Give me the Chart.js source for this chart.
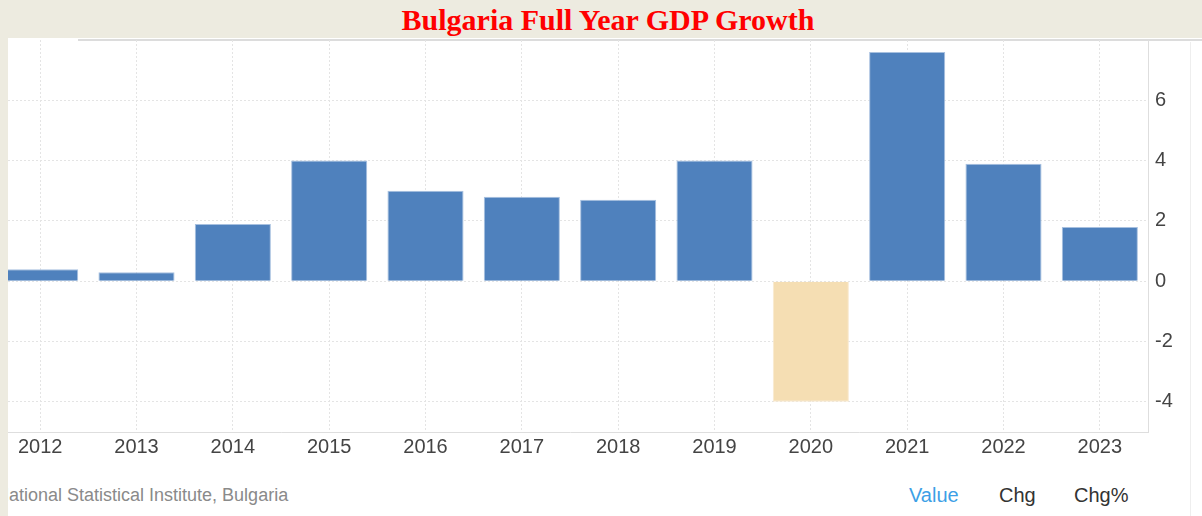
<!DOCTYPE html>
<html>
<head>
<meta charset="utf-8">
<script src="https://cdn.jsdelivr.net/npm/chart.js@4"></script>
<style>
  html,body{margin:0;padding:0;}
  body{width:1202px;height:516px;background:#edebe0;position:relative;overflow:hidden;font-family:"Liberation Sans",Arial,sans-serif;}
  #titulo{position:absolute;left:0;top:3px;width:1216px;text-align:center;font-family:"Liberation Serif","Times New Roman",serif;font-weight:bold;font-size:30px;color:#ff0000;}
  #panel{position:absolute;left:8px;top:38px;width:1194px;height:478px;background:#fff;overflow:hidden;}
  #linea{position:absolute;left:70px;top:1px;right:0;height:0;border-top:2px solid #dcdcdc;}
  #lineaDer{position:absolute;left:1182px;top:4px;bottom:0;width:0;border-left:1px solid #eeeeee;}
  #caja{position:absolute;left:-16px;top:2px;width:1200px;height:432px;}
  #fuente{position:absolute;left:-12px;top:447px;font-size:18px;color:#8a8a8a;white-space:nowrap;}
  .boton{position:absolute;top:446px;font-size:20px;color:#333;}
</style>
</head>
<body>
<div id="titulo">Bulgaria Full Year GDP Growth</div>
<div id="panel">
  <div id="linea"></div>
  <div id="lineaDer"></div>
  <div id="caja"><canvas id="idGrafica"></canvas></div>
  <div id="fuente">National Statistical Institute, Bulgaria</div>
  <div class="boton" style="left:901px;color:#3d9fe6;">Value</div>
  <div class="boton" style="left:991px;">Chg</div>
  <div class="boton" style="left:1066px;">Chg%</div>
</div>
<script>
// datos
var anios=['2012','2013','2014','2015','2016','2017','2018','2019','2020','2021','2022','2023'];
var crecimiento=[0.4,0.3,1.9,4.0,3.0,2.8,2.7,4.0,-4.0,7.6,3.9,1.8];
var ticksY=[-4,-2,0,2,4,6];

var colores=[];
var bordes=[];
for(let i in crecimiento){
    if(crecimiento[i]<0){
        colores.push('#f5deb3');
        bordes.push('#f9ead0');
    }else{
        colores.push('#4f81bd');
        bordes.push('#a7c0df');
    }
}

var ctx=document.getElementById('idGrafica').getContext('2d');
var mychart=new Chart(ctx,{
    type:'bar',
    data:{
        labels:anios,
        datasets:[{
            label:'GDP Growth',
            data:crecimiento,
            backgroundColor:colores,
            borderColor:bordes,
            borderWidth:1,
            barPercentage:0.79,
            categoryPercentage:1
        }]
    },
    options:{
        responsive:true,
        maintainAspectRatio:false,
        animation:false,
        layout:{padding:0},
        plugins:{
            legend:{display:false},
            tooltip:{enabled:false}
        },
        scales:{
            x:{
                offset:true,
                grid:{offset:false,color:'#e4e4e4',drawTicks:false},
                border:{display:true,color:'#dedede',width:1,dash:[2,2]},
                ticks:{color:'#444',font:{family:'Liberation Sans',size:20},padding:3,maxRotation:0},
                afterFit:function(scale){
                    scale.height=40;
                    scale.paddingLeft=0;scale.paddingRight=0;
                }
            },
            y:{
                position:'right',
                min:-5,
                max:8,
                afterBuildTicks:function(scale){
                    scale.ticks=ticksY.map(function(v){return {value:v};});
                },
                grid:{color:'#e4e4e4',drawTicks:false},
                border:{display:true,color:'#dedede',width:1,dash:[2,2]},
                ticks:{color:'#444',font:{family:'Liberation Sans',size:20},padding:7},
                afterFit:function(scale){
                    scale.width=44;
                    scale.paddingTop=0;scale.paddingBottom=0;
                }
            }
        }
    }
});
</script>
</body>
</html>
